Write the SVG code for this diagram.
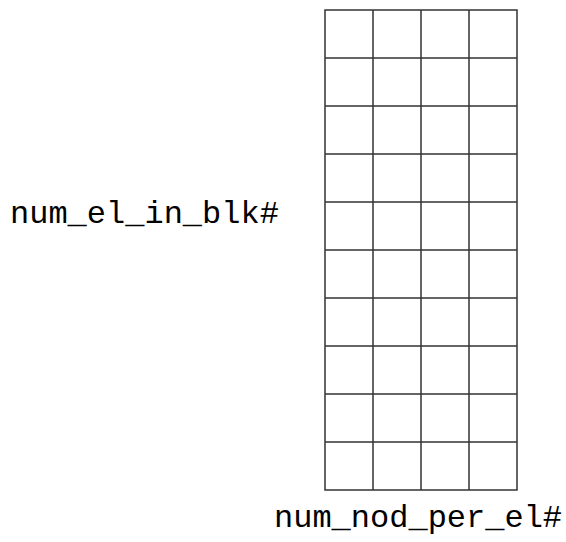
<svg xmlns="http://www.w3.org/2000/svg" width="566" height="542" viewBox="0 0 566 542">
<style>
.g{stroke:#333;stroke-width:1.5;fill:none}
.t{font-family:"Courier New","Nimbus Mono PS","FreeMono","Liberation Mono",monospace;font-size:32px;fill:#000}
</style>
<rect width="566" height="542" fill="#fff"/>
<g id="grid">
<rect class="g" x="325" y="10" width="192" height="480"/>
<path class="g" d="M373 10V490M421 10V490M469 10V490M325 58H517M325 106H517M325 154H517M325 202H517M325 250H517M325 298H517M325 346H517M325 394H517M325 442H517"/>
</g>
<g id="labels">
<text class="t" x="10" y="223">num_el_in_blk#</text>
<text class="t" x="274" y="527">num_nod_per_el#</text>
</g>
</svg>
